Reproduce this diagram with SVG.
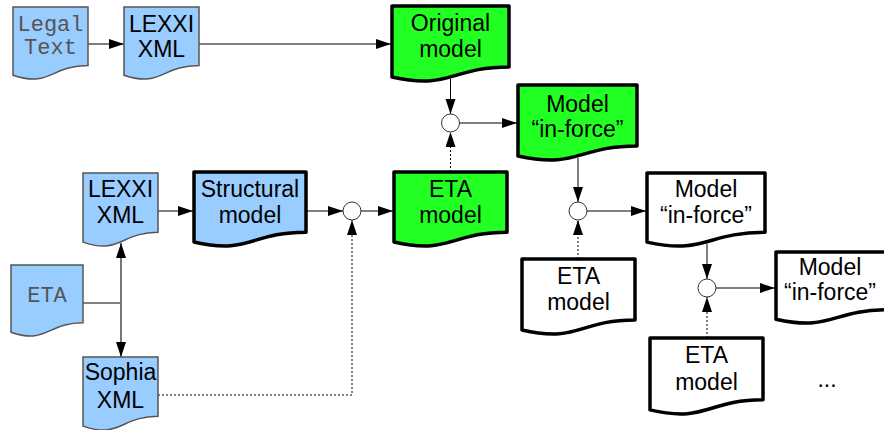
<svg xmlns="http://www.w3.org/2000/svg" width="884" height="430" viewBox="0 0 884 430">
<defs>
<marker id="ah" markerUnits="userSpaceOnUse" markerWidth="16" markerHeight="11" refX="15" refY="5" orient="auto">
<path d="M0,0 L15,5 L0,10 Z" fill="#000"/>
</marker>
</defs>
<style>
.blue{fill:#99ccff;stroke:#555;stroke-width:1.5}
.green{fill:#22ff22;stroke:#000;stroke-width:3.5;stroke-linejoin:round}
.bluet{fill:#99ccff;stroke:#000;stroke-width:3.5;stroke-linejoin:round}
.white{fill:#fff;stroke:#000;stroke-width:3.5;stroke-linejoin:round}
.t{font-family:"Liberation Sans",Arial,sans-serif;font-size:23px;fill:#000;text-anchor:middle}
.m{font-family:"Liberation Mono","Courier New",monospace;font-size:22px;fill:#555;text-anchor:middle}
.c{fill:none;stroke:#000;stroke-width:1}
.d{fill:none;stroke:#000;stroke-width:1;stroke-dasharray:2,2}
.arr{marker-end:url(#ah)}
.j{fill:#fff;stroke:#333;stroke-width:1}
</style>
<g id="connectors">
<path class="c arr" d="M88,44 H124"/>
<path class="c arr" d="M199,44 H391"/>
<path class="c arr" d="M450.5,79 V114"/>
<path class="c arr" d="M459.5,123 H517"/>
<path class="d arr" d="M450.5,172 V132"/>
<path class="c arr" d="M158,211 H193"/>
<path class="c arr" d="M306,211 H343"/>
<path class="c arr" d="M361,211 H393"/>
<path class="d arr" d="M158,395 H352 V220"/>
<path class="c" d="M83,303 H121"/>
<path fill="none" stroke="#777" stroke-width="2" class="arr" d="M121,303 V243"/>
<path fill="none" stroke="#777" stroke-width="2" class="arr" d="M121,303 V357"/>
<path class="c arr" d="M578,158 V202"/>
<path class="c arr" d="M587,211 H646"/>
<path class="d arr" d="M578,259 V220"/>
<path class="c arr" d="M707,244 V279"/>
<path class="c arr" d="M716,288 H775"/>
<path class="d arr" d="M707,338 V297"/>
<circle class="j" cx="450.5" cy="123" r="9"/>
<circle class="j" cx="352" cy="211" r="9"/>
<circle class="j" cx="578" cy="211" r="9"/>
<circle class="j" cx="707" cy="288" r="9"/>
</g>
<g id="legal-text">
<path class="blue" d="M13,7 H88 V65.5 C50.5,65.5 50.5,87.8 13,75.2 Z"/>
<text class="m" x="50.5" y="31">Legal</text>
<text class="m" x="50.5" y="54">Text</text>
</g>
<g id="lexxi-xml-1">
<path class="blue" d="M124,7 H199 V65.5 C161.5,65.5 161.5,87.8 124,75.2 Z"/>
<text class="t" x="161.5" y="32">LEXXI</text>
<text class="t" x="161.5" y="57">XML</text>
</g>
<g id="original-model">
<path class="green" d="M392,6 H509 V67 C450.5,67 450.5,90.1 392,77 Z"/>
<text class="t" x="450.5" y="31">Original</text>
<text class="t" x="450.5" y="57">model</text>
</g>
<g id="model-in-force-green">
<path class="green" d="M518,85 H637 V146 C577.5,146 577.5,169.1 518,156 Z"/>
<text class="t" x="577.5" y="112">Model</text>
<text class="t" x="577.5" y="137">“in-force”</text>
</g>
<g id="eta-model-green">
<path class="green" d="M394,172 H507 V232.2 C450.5,232.2 450.5,255 394,242 Z"/>
<text class="t" x="450.5" y="197">ETA</text>
<text class="t" x="450.5" y="223">model</text>
</g>
<g id="lexxi-xml-2">
<path class="blue" d="M83,173 H158 V232.3 C120.5,232.3 120.5,254.9 83,242.1 Z"/>
<text class="t" x="120.5" y="197">LEXXI</text>
<text class="t" x="120.5" y="223">XML</text>
</g>
<g id="structural-model">
<path class="bluet" d="M194,172 H306 V232.2 C250,232.2 250,255 194,242 Z"/>
<text class="t" x="250" y="197">Structural</text>
<text class="t" x="250" y="223">model</text>
</g>
<g id="eta">
<path class="blue" d="M11,265 H83 V322.7 C47,322.7 47,344.7 11,332.2 Z"/>
<text class="m" x="47" y="302">ETA</text>
</g>
<g id="sophia-xml">
<path class="blue" d="M83,357 H158 V416.3 C120.5,416.3 120.5,438.9 83,426.1 Z"/>
<text class="t" x="120.5" y="380">Sophia</text>
<text class="t" x="120.5" y="408">XML</text>
</g>
<g id="model-in-force-1">
<path class="white" d="M647,173 H765 V232.3 C706,232.3 706,254.9 647,242.1 Z"/>
<text class="t" x="706" y="197">Model</text>
<text class="t" x="706" y="223">“in-force”</text>
</g>
<g id="eta-model-1">
<path class="white" d="M522,259 H635 V320 C578.5,320 578.5,343.1 522,330 Z"/>
<text class="t" x="578.5" y="284">ETA</text>
<text class="t" x="578.5" y="310">model</text>
</g>
<g id="model-in-force-2">
<path class="white" d="M776,252 H888 V309.7 C832,309.7 832,331.7 776,319.2 Z"/>
<text class="t" x="830" y="275">Model</text>
<text class="t" x="830" y="300">“in-force”</text>
</g>
<g id="eta-model-2">
<path class="white" d="M650,338 H763 V399.8 C706.5,399.8 706.5,423.2 650,409.9 Z"/>
<text class="t" x="706.5" y="363">ETA</text>
<text class="t" x="706.5" y="390">model</text>
</g>
<text class="t" x="827" y="387">...</text>
</svg>
